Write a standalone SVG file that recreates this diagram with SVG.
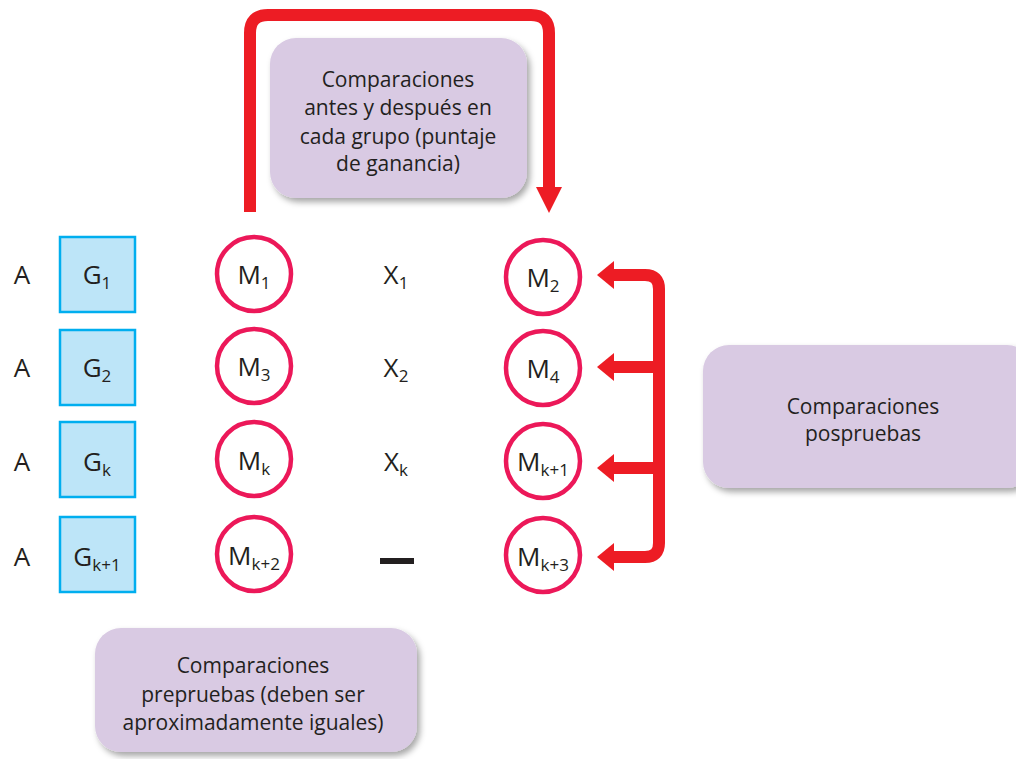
<svg xmlns="http://www.w3.org/2000/svg" width="1016" height="759" viewBox="0 0 1016 759">
<defs>
<filter id="sh" x="-10%" y="-10%" width="125%" height="130%">
<feDropShadow dx="3" dy="4" stdDeviation="3" flood-color="#000" flood-opacity="0.35"/>
</filter>
<style>
text{font-family:"Open Sans","Noto Sans","Liberation Sans",sans-serif;fill:#231F20}
.lbl{font-size:26px;text-anchor:middle}
.sub{font-size:17px}
.box{fill:#D9CAE3;filter:url(#sh)}
.bt{font-size:21px;text-anchor:middle}
.g{fill:#BDE5F8;stroke:#00AEEF;stroke-width:2.5}
.m{fill:#fff;stroke:#EC1859;stroke-width:4.5}
.ar{fill:none;stroke:#ED1C24;stroke-width:12;stroke-linejoin:round}
.ah{fill:#ED1C24}
</style>
</defs>
<rect width="1016" height="759" fill="#fff"/>

<g id="box-top">
<rect class="box" x="270" y="38" width="257" height="160" rx="26"/>
<text class="bt" x="398" y="87">Comparaciones</text>
<text class="bt" x="398" y="115">antes y después en</text>
<text class="bt" x="398" y="144">cada grupo (puntaje</text>
<text class="bt" x="398" y="171">de ganancia)</text>
</g>

<g id="connectors">
<path class="ar" d="M250,212 V33 Q250,15 268,15 H531 Q549,15 549,33 V190"/>
<polygon class="ah" points="536,187 562,187 549,213"/>
<path class="ar" d="M612,275 H645 Q659,275 659,289 V543 Q659,557 645,557 H612"/>
<path class="ar" d="M612,367 H659 M612,468 H659"/>
<polygon class="ah" points="597,275 614,261 614,289"/>
<polygon class="ah" points="597,367 614,353 614,381"/>
<polygon class="ah" points="597,468 614,454 614,482"/>
<polygon class="ah" points="597,557 614,543 614,571"/>
</g>

<g id="row1">
<text class="lbl" x="22" y="284">A</text>
<rect class="g" x="60" y="237" width="75" height="75"/>
<text class="lbl" x="97" y="284">G<tspan class="sub" dy="5">1</tspan></text>
<circle class="m" cx="254" cy="274" r="37"/>
<text class="lbl" x="254" y="284">M<tspan class="sub" dy="5">1</tspan></text>
<text class="lbl" x="396" y="284">X<tspan class="sub" dy="5">1</tspan></text>
<circle class="m" cx="543" cy="277" r="37"/>
<text class="lbl" x="543" y="287">M<tspan class="sub" dy="5">2</tspan></text>
</g>

<g id="row2">
<text class="lbl" x="22" y="377">A</text>
<rect class="g" x="60" y="330" width="75" height="75"/>
<text class="lbl" x="97" y="377">G<tspan class="sub" dy="5">2</tspan></text>
<circle class="m" cx="254" cy="366" r="37"/>
<text class="lbl" x="254" y="376">M<tspan class="sub" dy="5">3</tspan></text>
<text class="lbl" x="396" y="377">X<tspan class="sub" dy="5">2</tspan></text>
<circle class="m" cx="543" cy="368" r="37"/>
<text class="lbl" x="543" y="378">M<tspan class="sub" dy="5">4</tspan></text>
</g>

<g id="row3">
<text class="lbl" x="22" y="471">A</text>
<rect class="g" x="60" y="422" width="75" height="75"/>
<text class="lbl" x="97" y="471">G<tspan class="sub" dy="5">k</tspan></text>
<circle class="m" cx="254" cy="459" r="37"/>
<text class="lbl" x="254" y="470">M<tspan class="sub" dy="5">k</tspan></text>
<text class="lbl" x="396" y="471">X<tspan class="sub" dy="5">k</tspan></text>
<circle class="m" cx="543" cy="461" r="37"/>
<text class="lbl" x="543" y="471">M<tspan class="sub" dy="5">k+1</tspan></text>
</g>

<g id="row4">
<text class="lbl" x="22" y="566">A</text>
<rect class="g" x="60" y="517" width="75" height="75"/>
<text class="lbl" x="97" y="566">G<tspan class="sub" dy="5">k+1</tspan></text>
<circle class="m" cx="254" cy="554" r="37"/>
<text class="lbl" x="254" y="565">M<tspan class="sub" dy="5">k+2</tspan></text>
<rect x="380" y="558" width="34" height="6" fill="#231F20"/>
<circle class="m" cx="543" cy="555" r="37"/>
<text class="lbl" x="543" y="566">M<tspan class="sub" dy="5">k+3</tspan></text>
</g>

<g id="box-right">
<rect class="box" x="703" y="345" width="330" height="143" rx="26"/>
<text class="bt" x="863" y="414">Comparaciones</text>
<text class="bt" x="863" y="441">pospruebas</text>
</g>

<g id="box-bottom">
<rect class="box" x="95" y="628" width="322" height="124" rx="26"/>
<text class="bt" x="253" y="673">Comparaciones</text>
<text class="bt" x="253" y="702">prepruebas (deben ser</text>
<text class="bt" x="253" y="730">aproximadamente iguales)</text>
</g>
</svg>
